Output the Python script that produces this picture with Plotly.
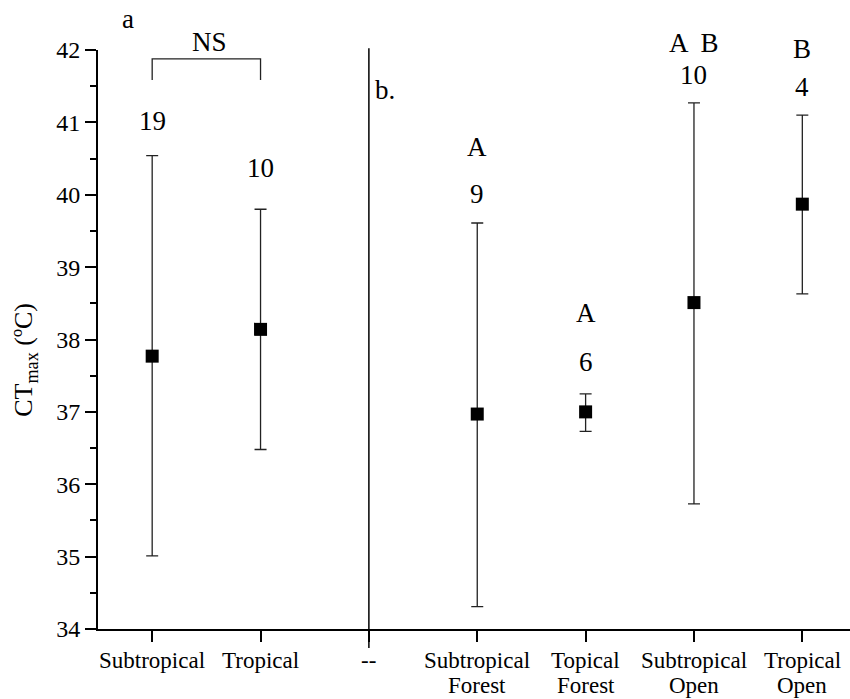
import plotly.graph_objects as go

categories = ["Subtropical", "Tropical", "--", "Subtropical<br>Forest",
              "Topical<br>Forest", "Subtropical<br>Open", "Tropical<br>Open"]
data_cats = ["Subtropical", "Tropical", "Subtropical<br>Forest",
             "Topical<br>Forest", "Subtropical<br>Open", "Tropical<br>Open"]
means = [37.77, 38.14, 36.97, 37.00, 38.51, 39.87]
upper = [40.54, 39.80, 39.61, 37.25, 41.27, 41.10]
lower = [35.01, 36.48, 34.31, 36.73, 35.73, 38.63]
n_labels = ["19", "10", "9", "6", "10", "4"]
n_label_y = [41.02, 40.37, 40.01, 37.69, 41.65, 41.49]
letters = ["", "", "A", "A", "A  B", "B"]
letter_y = [None, None, 40.66, 38.36, 42.09, 42.01]

Y0, Y1 = 34, 42
FONT = "Times New Roman, Liberation Serif, serif"
PLOT_H = 699 - 50 - 70


def py(v):
    return (v - Y0) / (Y1 - Y0)


fig = go.Figure()
fig.add_trace(go.Scatter(
    x=data_cats, y=means, mode="markers",
    marker=dict(symbol="square", size=13, color="black"),
    error_y=dict(type="data", symmetric=False,
                 array=[u - m for u, m in zip(upper, means)],
                 arrayminus=[m - l for m, l in zip(means, lower)],
                 color="#222222", thickness=1.3, width=6),
    showlegend=False, cliponaxis=False,
))

tfont = dict(family=FONT, size=27, color="black")
ann = []


def add_text(x, y, t, **kw):
    d = dict(x=x, y=py(y), xref="x", yref="paper", text=t, showarrow=False,
             xanchor="center", yanchor="middle", font=tfont)
    d.update(kw)
    ann.append(d)


for c, t, y in zip(data_cats, n_labels, n_label_y):
    add_text(c, y, t)
for c, t, y in zip(data_cats, letters, letter_y):
    if t:
        add_text(c, y, t)
add_text(0.53, 42.11, "NS")
add_text(-0.22, 42.43, "a")
add_text(2.04, 41.45, "b.", xanchor="left")

# category labels drawn as two text rows below the axis
for c in categories:
    for i, line in enumerate(c.split("<br>")):
        ann.append(dict(x=c, y=-(31 + 25 * i) / PLOT_H, xref="x", yref="paper",
                        text=line, showarrow=False, xanchor="center",
                        yanchor="middle",
                        font=dict(family=FONT, size=23, color="black")))

ann.append(dict(x=-0.097, y=0.465, xref="paper", yref="paper", xanchor="center",
                yanchor="middle",
                text="CT<sub>max</sub> (ºC)", showarrow=False, textangle=-90,
                font=dict(family=FONT, size=26, color="black")))

shapes = [
    dict(type="line", xref="x", yref="paper", x0=2, x1=2, y0=-0.033, y1=1.003,
         line=dict(color="black", width=1.5)),
    dict(type="path", xref="x", yref="y",
         path="M 0,41.585 L 0,41.876 L 1,41.876 L 1,41.585",
         line=dict(color="#222222", width=1.3)),
]

fig.update_layout(
    width=850, height=699,
    margin=dict(l=98, r=0, t=50, b=70, autoexpand=False),
    plot_bgcolor="white", paper_bgcolor="white",
    font=dict(family=FONT, color="black"),
    annotations=ann, shapes=shapes,
    xaxis=dict(type="category", categoryorder="array", categoryarray=categories,
               range=[-0.5, 6.44], showline=True, linecolor="black", linewidth=2,
               ticks="outside", ticklen=11, tickwidth=2, tickcolor="black",
               showticklabels=False,
               showgrid=False, zeroline=False, automargin=False),
    yaxis=dict(range=[Y0, Y1], dtick=1, showline=True, linecolor="black", linewidth=2,
               ticks="outside", ticklen=11, tickwidth=2, tickcolor="black",
               minor=dict(dtick=0.5, ticks="outside", ticklen=6, tickwidth=2,
                          tickcolor="black", showgrid=False),
               tickfont=dict(family=FONT, size=24, color="black"),
               showgrid=False, zeroline=False, automargin=False),
)

fig.write_html("out.html")
